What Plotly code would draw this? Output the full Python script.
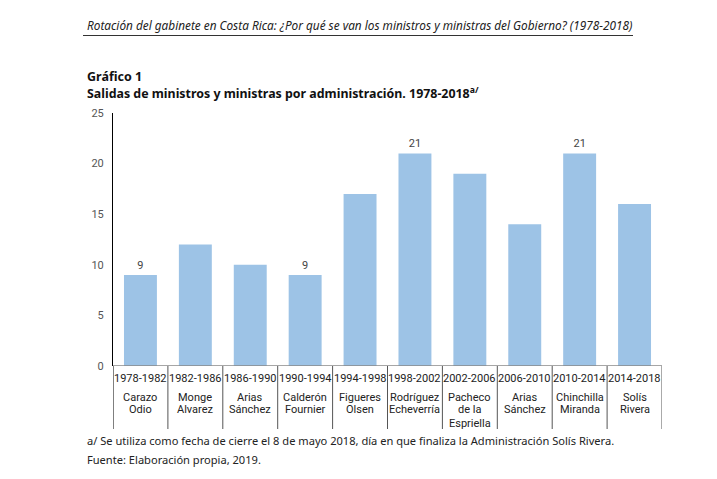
import plotly.graph_objects as go

periods = ["1978-1982", "1982-1986", "1986-1990", "1990-1994", "1994-1998",
           "1998-2002", "2002-2006", "2006-2010", "2010-2014", "2014-2018"]
names = ["Carazo<br>Odio", "Monge<br>Alvarez", "Arias<br>Sánchez", "Calderón<br>Fournier",
         "Figueres<br>Olsen", "Rodríguez<br>Echeverría", "Pacheco<br>de la<br>Espriella",
         "Arias<br>Sánchez", "Chinchilla<br>Miranda", "Solís<br>Rivera"]
salidas = [9, 12, 10, 9, 17, 21, 19, 14, 21, 16]
show_label = [True, False, False, True, False, True, False, False, True, False]
y_ticks = [0, 5, 10, 15, 20, 25]

OFF = 8  # page body margin
W, H = 717 - OFF, 479 - OFF
L, R, T, B = 113, 662, 113, 366  # plot area pixel bounds in the page


def px(xp):
    return (xp - L) / (R - L)


def py(yp):
    return (B - yp) / (B - T)


xs = list(range(len(periods)))
labels = [str(v) if s else "" for v, s in zip(salidas, show_label)]

fig = go.Figure()
fig.add_trace(go.Bar(
    x=xs, y=salidas, width=0.6,
    marker=dict(color="#9DC3E6", line=dict(width=0)),
    text=labels, textposition="outside", cliponaxis=False,
    textfont=dict(family="Roboto", size=11, color="#444444"),
    hoverinfo="skip",
))

cat_font = dict(family="Roboto", size=11, color="#222222")
annotations = []
shapes = []
for i, (p, n) in enumerate(zip(periods, names)):
    annotations.append(dict(x=i, y=py(378), xref="x", yref="paper", text=p,
                            showarrow=False, yanchor="middle", xanchor="center",
                            font=cat_font))
    for k, line in enumerate(n.split("<br>")):
        annotations.append(dict(x=i, y=py(397 + 13 * k), xref="x", yref="paper", text=line,
                                showarrow=False, yanchor="middle", xanchor="center",
                                font=cat_font))
for i in range(len(periods) + 1):
    shapes.append(dict(type="line", xref="x", yref="paper", x0=i - 0.5, x1=i - 0.5,
                       y0=0, y1=py(429), line=dict(color="#555555" if i else "#000000", width=1)))

# header
annotations.append(dict(x=px(85), y=py(25), xref="paper", yref="paper", xanchor="left",
                        yanchor="middle", showarrow=False,
                        text="<i>Rotación del gabinete en Costa Rica: ¿Por qué se van los ministros y ministras del Gobierno? (1978-2018)</i>",
                        font=dict(family="Noto Sans", size=11.8, color="#222222")))
shapes.append(dict(type="line", xref="paper", yref="paper", x0=px(83), x1=px(633),
                   y0=py(35.5), y1=py(35.5), line=dict(color="#333333", width=1)))
annotations.append(dict(x=px(85), y=py(77), xref="paper", yref="paper", xanchor="left",
                        yanchor="middle", showarrow=False, text="<b>Gráfico 1</b>",
                        font=dict(family="Noto Sans", size=12.5, color="#111111")))
annotations.append(dict(x=px(85), y=py(93), xref="paper", yref="paper", xanchor="left",
                        yanchor="middle", showarrow=False,
                        text="<b>Salidas de ministros y ministras por administración. 1978-2018<sup>a/</sup></b>",
                        font=dict(family="Noto Sans", size=12.4, color="#111111")))
annotations.append(dict(x=px(85), y=py(440), xref="paper", yref="paper", xanchor="left",
                        yanchor="middle", showarrow=False,
                        text="a/ Se utiliza como fecha de cierre el 8 de mayo 2018, día en que finaliza la Administración Solís Rivera.",
                        font=dict(family="Noto Sans", size=11.1, color="#222222")))
annotations.append(dict(x=px(85), y=py(459), xref="paper", yref="paper", xanchor="left",
                        yanchor="middle", showarrow=False,
                        text="Fuente: Elaboración propia, 2019.",
                        font=dict(family="Noto Sans", size=11.1, color="#222222")))
# x axis baseline
shapes.append(dict(type="line", xref="paper", yref="y", x0=0, x1=1, y0=0, y1=0,
                   line=dict(color="#888888", width=1.5)))

fig.update_layout(
    width=W, height=H,
    margin=dict(l=L - OFF, r=(W + OFF) - R, t=T - OFF, b=(H + OFF) - B),
    paper_bgcolor="white", plot_bgcolor="white",
    showlegend=False,
    xaxis=dict(range=[-0.5, len(periods) - 0.5], showticklabels=False, showgrid=False,
               zeroline=False, showline=False, ticks=""),
    yaxis=dict(range=[0, 25], tickvals=y_ticks, showgrid=False, zeroline=False,
               showline=True, linecolor="#000000", linewidth=1, ticks="",
               ticklabelstandoff=6,
               tickfont=dict(family="Roboto", size=11, color="#555555")),
    annotations=annotations, shapes=shapes,
)

fig.write_html("out.html")
